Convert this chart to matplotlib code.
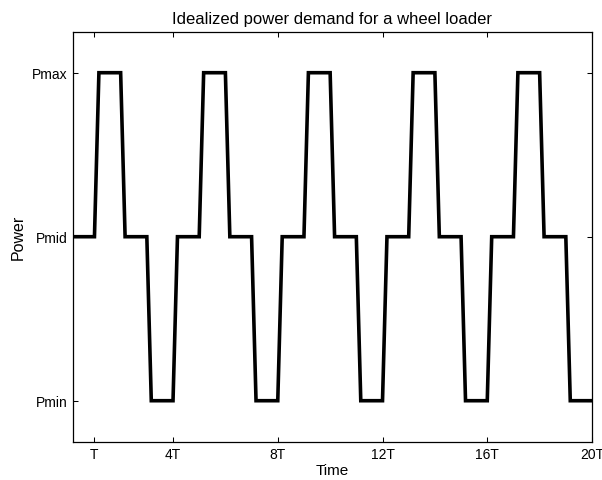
import matplotlib
matplotlib.use('Agg')
import matplotlib.pyplot as plt

plt.rcParams['font.family'] = ['Liberation Sans', 'DejaVu Sans']

# Idealized duty cycle: breakpoints (in units of T) and power level index
time = [0.17, 1, 1.17, 2, 2.17, 3, 3.17, 4, 4.17,
        5, 5.17, 6, 6.17, 7, 7.17, 8, 8.17,
        9, 9.17, 10, 10.17, 11, 11.17, 12, 12.17,
        13, 13.17, 14, 14.17, 15, 15.17, 16, 16.17,
        17, 17.17, 18, 18.17, 19, 19.17, 20]
power = [1, 1, 2, 2, 1, 1, 0, 0, 1,
         1, 2, 2, 1, 1, 0, 0, 1,
         1, 2, 2, 1, 1, 0, 0, 1,
         1, 2, 2, 1, 1, 0, 0, 1,
         1, 2, 2, 1, 1, 0, 0]

xticks = [1, 4, 8, 12, 16, 20]
xtick_labels = ["T", "4T", "8T", "12T", "16T", "20T"]
yticks = [0, 1, 2]
ytick_labels = ["Pmin", "Pmid", "Pmax"]

fig = plt.figure(figsize=(6.02, 4.81), dpi=100)
ax = fig.add_axes([0.1208, 0.0796, 0.8626, 0.8524])

ax.plot(time, power, color="black", linewidth=2.6, solid_joinstyle="miter")

ax.set_xlim(0.17, 20)
ax.set_ylim(-0.25, 2.25)
ax.set_xticks(xticks)
ax.set_xticklabels(xtick_labels)
ax.set_yticks(yticks)
ax.set_yticklabels(ytick_labels)
ax.tick_params(direction="in", top=True, right=True, length=3.5,
               width=0.75, labelsize=10, pad=4)
for s in ax.spines.values():
    s.set_linewidth(0.9)

ax.set_xlabel("Time", fontsize=11, labelpad=1)
ax.set_ylabel("Power", fontsize=11.5, labelpad=4)
ax.set_title("Idealized power demand for a wheel loader", fontsize=12, pad=6)

plt.savefig("out.png", dpi=100)
